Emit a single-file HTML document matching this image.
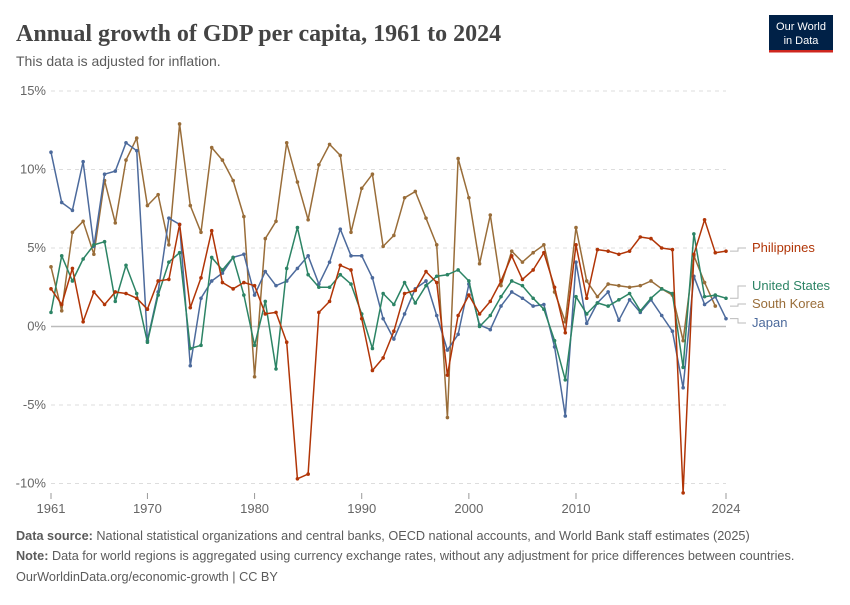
<!DOCTYPE html>
<html><head><meta charset="utf-8">
<style>
body{margin:0;background:#fff;width:850px;height:600px;overflow:hidden;font-family:"Liberation Sans",sans-serif;}
svg text{font-family:"Liberation Sans",sans-serif;}
</style></head>
<body>
<svg id="chart" width="850" height="600" viewBox="0 0 850 600">
<text x="16" y="41" font-size="24" font-weight="bold" fill="#444" style="font-family:'Liberation Serif',serif">Annual growth of GDP per capita, 1961 to 2024</text>
<text x="16" y="66" font-size="14" fill="#5b5b5b">This data is adjusted for inflation.</text>
<g>
<rect x="769" y="15" width="64" height="35" fill="#002147"/>
<rect x="769" y="50" width="64" height="2.5" fill="#ce261e"/>
<text x="801" y="30" font-size="11" fill="#fff" text-anchor="middle">Our World</text>
<text x="801" y="44" font-size="11" fill="#fff" text-anchor="middle">in Data</text>
</g>
<g id="grid"></g>
<g id="series"></g>
<g id="labels"></g>
<text x="16" y="540" font-size="12.7" fill="#5b5b5b"><tspan font-weight="bold">Data source:</tspan> National statistical organizations and central banks, OECD national accounts, and World Bank staff estimates (2025)</text>
<text x="16" y="560" font-size="12.7" fill="#5b5b5b"><tspan font-weight="bold">Note:</tspan> Data for world regions is aggregated using currency exchange rates, without any adjustment for price differences between countries.</text>
<text x="16" y="581" font-size="12.7" fill="#5b5b5b">OurWorldinData.org/economic-growth | CC BY</text>
</svg>
<script>
const startYear = 1961;
const endYear = 2024;
const yTicks = [-10, -5, 0, 5, 10, 15];
const xTicks = [1961, 1970, 1980, 1990, 2000, 2010, 2024];
const philippines = [2.4,1.4,3.7,0.3,2.2,1.4,2.2,2.1,1.8,1.1,2.9,3.0,6.5,1.2,3.1,6.1,2.8,2.4,2.8,2.6,0.8,0.9,-1.0,-9.7,-9.4,0.9,1.6,3.9,3.6,0.5,-2.8,-2.0,-0.3,2.1,2.3,3.5,2.8,-3.1,0.7,2.0,0.8,1.6,2.9,4.5,3.0,3.6,4.7,2.5,-0.4,5.2,1.8,4.9,4.8,4.6,4.8,5.7,5.6,5.0,4.9,-10.6,4.6,6.8,4.7,4.8];
const unitedStates = [0.9,4.5,2.9,4.3,5.2,5.4,1.6,3.9,2.1,-1.0,2.0,4.1,4.7,-1.4,-1.2,4.4,3.6,4.4,2.0,-1.2,1.6,-2.7,3.7,6.3,3.3,2.5,2.5,3.3,2.7,0.8,-1.4,2.1,1.4,2.8,1.5,2.6,3.2,3.3,3.6,2.9,0.0,0.7,1.9,2.9,2.6,1.8,1.1,-0.9,-3.4,1.9,0.8,1.5,1.3,1.7,2.1,1.0,1.8,2.4,2.1,-2.6,5.9,1.9,2.0,1.8];
const southKorea = [3.8,1.0,6.0,6.7,4.6,9.3,6.6,10.6,12.0,7.7,8.4,5.2,12.9,7.7,6.0,11.4,10.6,9.3,7.0,-3.2,5.6,6.7,11.7,9.2,6.8,10.3,11.6,10.9,6.0,8.8,9.7,5.1,5.8,8.2,8.6,6.9,5.2,-5.8,10.7,8.2,4.0,7.1,2.6,4.8,4.1,4.7,5.2,2.2,0.3,6.3,2.9,1.9,2.7,2.6,2.5,2.6,2.9,2.4,2.0,-0.9,4.5,2.8,1.3,null];
const japan = [11.1,7.9,7.4,10.5,5.1,9.7,9.9,11.7,11.2,-0.9,2.2,6.9,6.5,-2.5,1.8,2.9,3.4,4.4,4.6,2.0,3.5,2.6,2.9,3.7,4.5,2.7,4.1,6.2,4.5,4.5,3.1,0.5,-0.8,0.8,2.4,2.9,0.7,-1.5,-0.5,2.7,0.1,-0.2,1.3,2.2,1.8,1.3,1.4,-1.3,-5.7,4.1,0.2,1.5,2.2,0.4,1.7,0.9,1.7,0.7,-0.3,-3.9,3.2,1.4,1.9,0.5];
const seriesNames = ["Philippines","United States","South Korea","Japan"];

const NS="http://www.w3.org/2000/svg";
const X0=51,X1=726,Y15=91,Y0=326.5;
const xs=y=>X0+(y-startYear)*(X1-X0)/(endYear-startYear);
const ys=v=>Y0-v*(Y0-Y15)/15;
function mk(tag,attrs,parent){const e=document.createElementNS(NS,tag);for(const k in attrs)e.setAttribute(k,attrs[k]);parent.appendChild(e);return e;}
const grid=document.getElementById('grid');
yTicks.forEach(t=>{
  const l=mk('line',{x1:X0,x2:X1,y1:ys(t),y2:ys(t),stroke:t===0?'#bbb':'#ddd','stroke-width':t===0?1.5:1,'stroke-dasharray':t===0?'':'4,4'},grid);
  
  
  const tx=mk('text',{x:46,y:ys(t)+4,'text-anchor':'end','font-size':13,fill:'#666'},grid);
  tx.textContent=t+'%';
  
  
});
xTicks.forEach(t=>{
  const l=mk('line',{x1:xs(t),x2:xs(t),y1:493,y2:499,stroke:'#999'},grid);
  
  
  const tx=mk('text',{x:xs(t),y:513,'text-anchor':'middle','font-size':13,fill:'#666'},grid);
  tx.textContent=t;
  
  
});
const colors=['#b13507','#2c8465','#996d39','#4c6a9c'];
const data=[philippines,unitedStates,southKorea,japan];
const sg=document.getElementById('series');
[2,3,1,0].forEach(i=>{
  const g=mk('g',{},sg);
  
  
  let d='';
  data[i].forEach((v,j)=>{if(v===null)return;d+=(d?'L':'M')+xs(startYear+j).toFixed(1)+','+ys(v).toFixed(1);});
  const p=mk('path',{d:d,fill:'none',stroke:colors[i],'stroke-width':1.5,'stroke-linejoin':'round'},g);
  
  
  data[i].forEach((v,j)=>{if(v===null)return;
    const c=mk('circle',{cx:xs(startYear+j),cy:ys(v),r:1.8,fill:colors[i]},g);
    
    
  });
});
const lg=document.getElementById('labels');
const labelY=[252,290,308,327];
[0,1,2,3].forEach(i=>{
  const arr=data[i];let last=arr.length-1;while(arr[last]===null)last--;
  const yv=ys(arr[last]);
  const ln=mk('path',{d:`M730,${yv}H738V${labelY[i]-4}H746`,fill:'none',stroke:'#bbb'},lg);
  
  
  const t=mk('text',{x:752,y:labelY[i],'font-size':13,fill:colors[i]},lg);
  t.textContent=seriesNames[i];
  
  
});
</script>
</body></html>
